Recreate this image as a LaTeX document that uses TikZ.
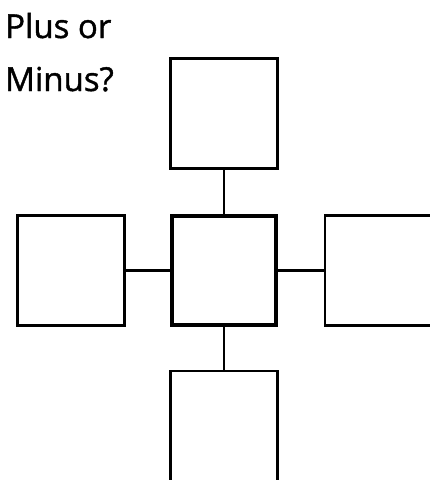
\documentclass[tikz,border=0pt]{standalone}
\usepackage{fontspec}
\setmainfont{Open Sans}
\newfontfamily\titlefont[FakeBold=1.2]{Open Sans}
\begin{document}
\begin{tikzpicture}[x=1pt,y=-1pt,
  box/.style={draw=black,line width=2.8pt,fill=white,rectangle,minimum width=107pt,minimum height=110pt,inner sep=0pt},
  mainbox/.style={box,line width=4.6pt,minimum width=104pt,minimum height=109pt},
  link/.style={draw=black,line width=2.6pt},
  title/.style={anchor=base west,inner sep=0pt,font=\titlefont\fontsize{33}{36}\selectfont}]
\useasboundingbox[fill=white] (0,0) rectangle (430,480);
\node[title] (t1) at (5,38) {Plus or};
\node[title] (t2) at (5,91) {Minus?};
\node[box] (top) at (224,113.3) {};
\node[mainbox] (mid) at (224,270.3) {};
\node[box] (left) at (71,270.3) {};
\node[box] (right) at (378.5,270.3) {};
\node[box] (bot) at (224,426) {};
\draw[link] (top.south) -- (mid.north);
\draw[link] (mid.south) -- (bot.north);
\draw[link] (left.east) -- (mid.west);
\draw[link] (mid.east) -- (right.west);
\end{tikzpicture}
\end{document}
